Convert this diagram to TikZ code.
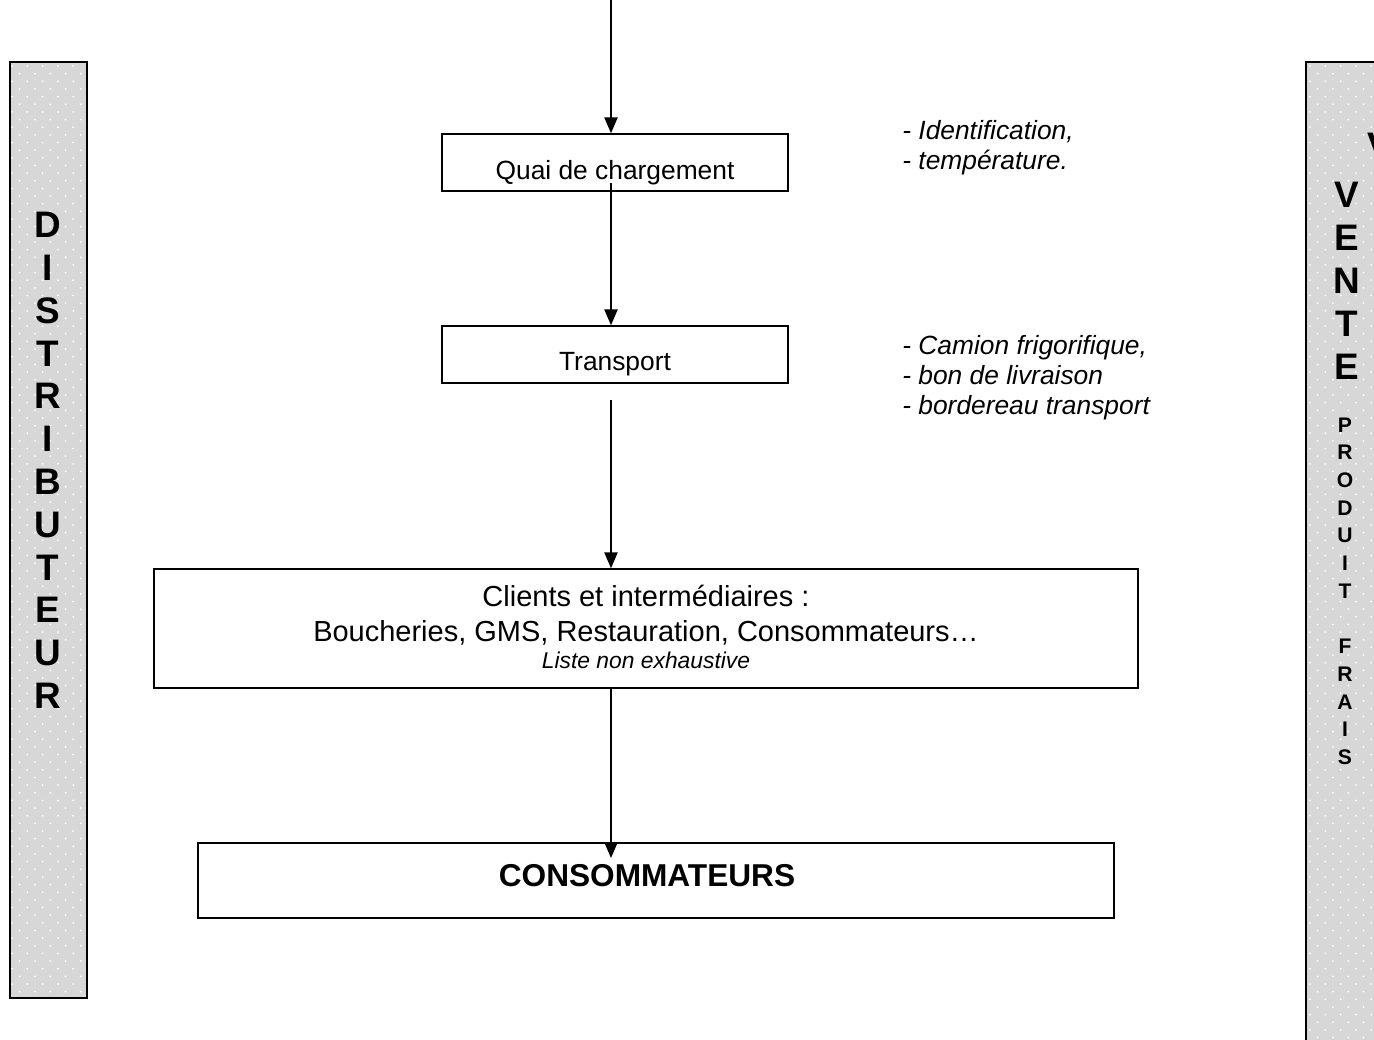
\documentclass[tikz,border=0pt]{standalone}
\usepackage{fontspec}
\setmainfont{Liberation Sans}
\usetikzlibrary{arrows.meta}
\definecolor{sidegray}{RGB}{215,215,215}
\begin{document}
\begin{tikzpicture}[x=0.02cm,y=-0.02cm,
 box/.style={draw=black,line width=0.85pt,inner sep=0,fill=white},
 lbl/.style={inner sep=0,anchor=base,font=\fontsize{15}{18}\selectfont},
 note/.style={inner sep=0,anchor=base west,font=\fontsize{15}{18}\selectfont\itshape},
 bigl/.style={inner sep=0,font=\fontsize{21}{24}\selectfont\bfseries},
 smalll/.style={inner sep=0,font=\fontsize{12}{14}\selectfont\bfseries},
 flow/.style={line width=0.9pt,-{Triangle[length=9pt,width=7.5pt]}},
 panel/.style={draw=black,line width=1.1pt}
]
\useasboundingbox (0,0) rectangle (1374,1039);
\clip (0,0) rectangle (1374,1039);

% left panel
\fill[sidegray] (10,62) rectangle (87,998);
\begin{scope}
\clip (10,62) rectangle (87,998);
\foreach \r in {0,...,122}{\foreach \c in {0,...,5}{
  \fill[white] ({12+15.3*\c+7.65*mod(\r,2)},{66+7.65*\r}) circle (1.0);}}
\end{scope}
\draw[panel] (10,62) rectangle (87,998);

% right panel
\fill[sidegray] (1306,62) rectangle (1390,1050);
\begin{scope}
\clip (1306,62) rectangle (1390,1050);
\foreach \r in {0,...,128}{\foreach \c in {0,...,5}{
  \fill[white] ({1310+15.3*\c+7.65*mod(\r,2)},{66+7.65*\r}) circle (1.0);}}
\end{scope}
\draw[panel] (1390,62) -- (1306,62) -- (1306,1050);

% left letters
\foreach \l [count=\i from 0] in {D,I,S,T,R,I,B,U,T,E,U,R}{
  \node[bigl] (dl\i) at (48,{225+42.8*\i}) {\l};}

% right letters
\node[bigl] (vcut) at (1380,146) {V};
\foreach \l [count=\i from 0] in {V,E,N,T,E}{
  \node[bigl] (vr\i) at (1347,{195+43*\i}) {\l};}
\foreach \l [count=\i from 0] in {P,R,O,D,U,I,T}{
  \node[smalll] (pr\i) at (1345,{425+27.7*\i}) {\l};}
\foreach \l [count=\i from 8] in {F,R,A,I,S}{
  \node[smalll] (fr\i) at (1345,{425+27.7*\i}) {\l};}

% boxes
\node[box,minimum width=346*0.02cm,minimum height=57*0.02cm] (quai) at (615,162.5) {};
\node[lbl] (quaitxt) at (615,179) {Quai de chargement};
\node[box,minimum width=346*0.02cm,minimum height=57*0.02cm] (transport) at (615,354.5) {};
\node[lbl] (transptxt) at (615,370) {Transport};
\node[box,minimum width=984*0.02cm,minimum height=119*0.02cm] (clients) at (646,628.5) {};
\node[inner sep=0,anchor=base,font=\fontsize{16.5}{18}\selectfont] (cl1) at (646,606) {Clients et intermédiaires :};
\node[inner sep=0,anchor=base,font=\fontsize{16.5}{18}\selectfont] (cl2) at (646,641) {Boucheries, GMS, Restauration, Consommateurs…};
\node[inner sep=0,anchor=base,font=\fontsize{13}{15}\selectfont\itshape] (cl3) at (646,668) {Liste non exhaustive};
\node[box,minimum width=916*0.02cm,minimum height=75*0.02cm] (conso) at (656,880.5) {};
\node[inner sep=0,anchor=base,font=\fontsize{18}{20}\selectfont\bfseries] (consotxt) at (647,886) {CONSOMMATEURS};

% notes
\node[note] (n1) at (902,139) {- Identification,};
\node[note] (n2) at (902,169) {- température.};
\node[note] (n3) at (902,354) {- Camion frigorifique,};
\node[note] (n4) at (902,384) {- bon de livraison};
\node[note] (n5) at (902,414) {- bordereau transport};

% connectors
\coordinate (top) at (611,0);
\coordinate (qout) at (611,183);
\coordinate (tout) at (611,400);
\coordinate (cin) at (611,858);
\draw[flow] (top) -- (top |- quai.north);
\draw[flow] (qout) -- (qout |- transport.north);
\draw[flow] (tout) -- (tout |- clients.north);
\draw[flow] (top |- clients.south) -- (cin);
\end{tikzpicture}
\end{document}
